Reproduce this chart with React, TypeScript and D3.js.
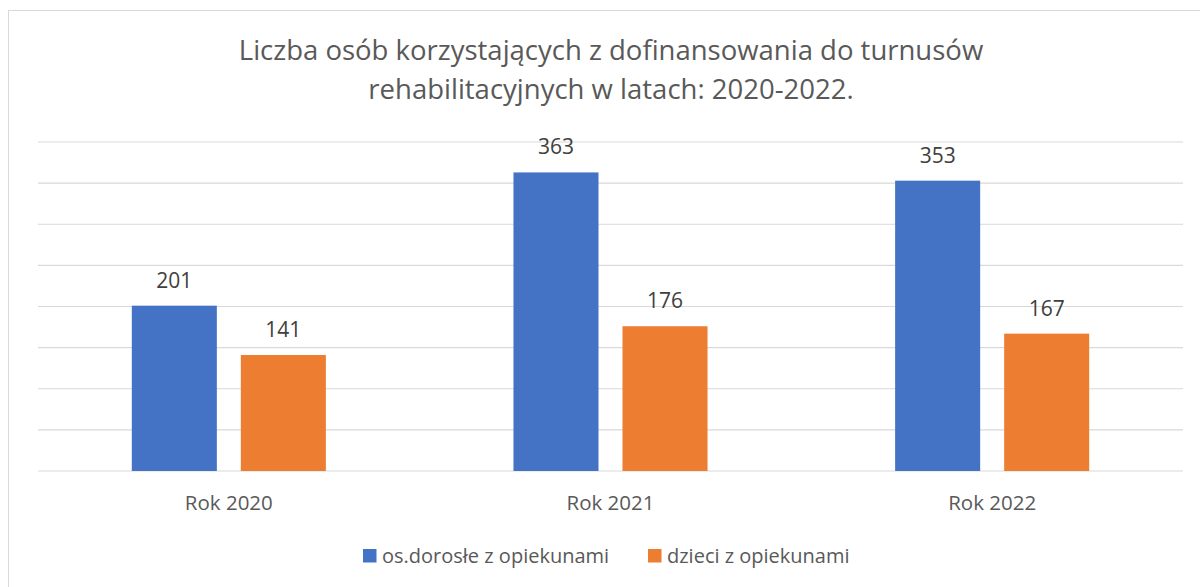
import React from "react";
import * as d3 from "d3";

const categories = ["Rok 2020", "Rok 2021", "Rok 2022"];
const seriesNames = ["os.dorosłe z opiekunami", "dzieci z opiekunami"];
const adults = [201, 363, 353];
const children = [141, 176, 167];
const seriesColors = ["#4472C4", "#ED7D31"];
const gridTicks = [0, 50, 100, 150, 200, 250, 300, 350, 400];
const titleLines = [
  "Liczba osób korzystających z dofinansowania do turnusów",
  "rehabilitacyjnych w latach: 2020-2022.",
];

const W = 1200;
const H = 587;
const FONT = "'Open Sans', 'Noto Sans', sans-serif";

export default function App() {
  const plotLeft = 38;
  const plotRight = 1183;
  const yScale = d3.scaleLinear().domain([0, 400]).range([471, 142]);
  const x0 = d3.scaleBand<string>().domain(categories).range([plotLeft, plotRight]).padding(0);
  const outer = 93.8;
  const x1 = d3
    .scaleBand<string>()
    .domain(seriesNames)
    .range([outer, x0.bandwidth() - outer])
    .paddingInner(0.22)
    .paddingOuter(0);
  const seriesValues = [adults, children];

  return (
    <svg
      width={W}
      height={H}
      style={{ position: "absolute", left: 0, top: 0, display: "block", background: "#fff" }}
      fontFamily={FONT}
    >
      <rect x={8.5} y={10.5} width={W + 10} height={H} fill="#fff" stroke="#D9D9D9" strokeWidth={1} />
      {titleLines.map((t, i) => (
        <text
          key={i}
          x={611}
          y={60 + i * 39}
          textAnchor="middle"
          fontSize={27.5}
          fill="#595959"
        >
          {t}
        </text>
      ))}
      {gridTicks.map((t) => (
        <line
          key={t}
          x1={plotLeft}
          x2={plotRight}
          y1={yScale(t)}
          y2={yScale(t)}
          stroke="#D9D9D9"
          strokeWidth={1.2}
        />
      ))}
      {categories.map((c, ci) => (
        <g key={c} transform={`translate(${x0(c)},0)`}>
          {seriesNames.map((s, si) => {
            const v = seriesValues[si][ci];
            const bx = x1(s)!;
            return (
              <g key={s}>
                <rect
                  x={bx}
                  y={yScale(v)}
                  width={x1.bandwidth()}
                  height={yScale(0) - yScale(v)}
                  fill={seriesColors[si]}
                />
                <text
                  x={bx + x1.bandwidth() / 2}
                  y={yScale(v) - 18}
                  textAnchor="middle"
                  fontSize={21}
                  fill="#404040"
                >
                  {v}
                </text>
              </g>
            );
          })}
          <text
            x={x0.bandwidth() / 2}
            y={510}
            textAnchor="middle"
            fontSize={20.5}
            fill="#595959"
          >
            {c}
          </text>
        </g>
      ))}
      {seriesNames.map((s, si) => {
        const lx = [363, 648][si];
        return (
          <g key={s}>
            <rect x={lx} y={549} width={13.5} height={13.5} fill={seriesColors[si]} />
            <text x={lx + 19} y={563} fontSize={20} fill="#595959">
              {s}
            </text>
          </g>
        );
      })}
    </svg>
  );
}
